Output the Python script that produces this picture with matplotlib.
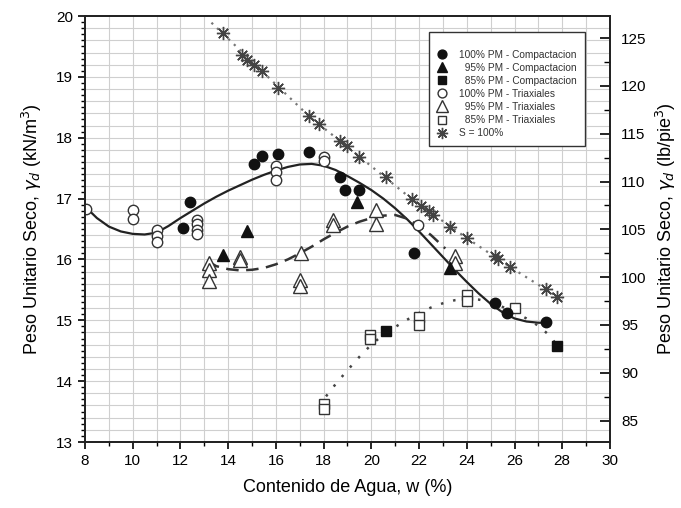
import numpy as np
import matplotlib.pyplot as plt
from matplotlib.ticker import MultipleLocator

plt.rcParams['font.family'] = ['Liberation Sans', 'DejaVu Sans']

# --- data (w in %, gamma_d in kN/m3) ---
comp100_w = [12.1, 12.4, 15.1, 15.4, 16.1, 17.4, 18.7, 18.9, 19.5, 21.8, 25.2, 25.7, 27.3]
comp100_g = [16.51, 16.95, 17.57, 17.70, 17.73, 17.76, 17.36, 17.14, 17.14, 16.10, 15.29, 15.12, 14.97]

comp95_w = [13.8, 14.8, 19.4, 23.3]
comp95_g = [16.08, 16.47, 16.95, 15.86]

comp85_w = [20.6, 27.8]
comp85_g = [14.83, 14.57]

tri100_w = [8.05, 10.0, 10.0, 11.0, 11.0, 11.0, 12.7, 12.7, 12.7, 12.7, 16.0, 16.0, 16.0, 18.0, 18.0, 21.95]
tri100_g = [16.83, 16.81, 16.66, 16.49, 16.39, 16.29, 16.65, 16.58, 16.49, 16.42, 17.53, 17.44, 17.31, 17.69, 17.61, 16.57]

tri95_w = [13.2, 13.2, 13.2, 14.5, 14.5, 17.05, 17.0, 17.0, 18.4, 18.4, 20.2, 20.2, 23.5, 23.5]
tri95_g = [15.94, 15.83, 15.64, 16.04, 15.99, 16.11, 15.67, 15.56, 16.65, 16.57, 16.81, 16.58, 16.05, 15.94]

tri85_w = [18.0, 18.0, 19.95, 19.95, 22.0, 22.0, 24.0, 24.0, 26.0]
tri85_g = [13.63, 13.55, 14.76, 14.70, 15.06, 14.93, 15.42, 15.31, 15.20]

sat_w = [13.8, 14.6, 14.8, 15.1, 15.4, 16.1, 17.4, 17.8, 18.7, 19.0, 19.5, 20.6,
         21.7, 22.1, 22.4, 22.6, 23.3, 24.0, 25.2, 25.3, 25.8, 27.3, 27.8]
sat_g = [19.72, 19.36, 19.28, 19.20, 19.10, 18.82, 18.35, 18.22, 17.94, 17.87, 17.69, 17.36,
         16.99, 16.87, 16.80, 16.73, 16.54, 16.35, 16.05, 16.00, 15.88, 15.51, 15.38]

# trend curves
fit100_w = [8.0, 8.5, 9.0, 9.5, 10.0, 10.5, 11.0, 11.5, 12.0, 12.5, 13.0, 13.5, 14.0, 14.5,
            15.0, 15.5, 16.0, 16.5, 17.0, 17.5, 18.0, 18.5, 19.0, 19.5, 20.0, 20.5, 21.0,
            21.5, 22.0, 22.5, 23.0, 23.5, 24.0, 24.5, 25.0, 25.5, 26.0, 26.5, 27.0, 27.3]
fit100_g = [16.87, 16.68, 16.54, 16.46, 16.42, 16.41, 16.44, 16.55, 16.68, 16.80, 16.92, 17.03,
            17.13, 17.22, 17.31, 17.39, 17.46, 17.52, 17.56, 17.57, 17.54, 17.47, 17.37, 17.26,
            17.14, 17.00, 16.84, 16.66, 16.46, 16.25, 16.04, 15.83, 15.63, 15.44, 15.27, 15.13,
            15.03, 14.98, 14.96, 14.96]

fit95_w = [13.15, 13.5, 14.0, 14.5, 15.0, 15.5, 16.0, 16.5, 17.0, 17.5, 18.0, 18.5, 19.0,
           19.5, 20.0, 20.5, 21.0, 21.5, 22.0, 22.5, 23.1]
fit95_g = [15.97, 15.89, 15.84, 15.82, 15.83, 15.86, 15.92, 16.00, 16.10, 16.21, 16.33, 16.44,
           16.54, 16.62, 16.68, 16.72, 16.73, 16.67, 16.55, 16.40, 16.18]

fit85_w = [18.1, 18.5, 19.0, 19.5, 20.0, 20.5, 21.0, 21.5, 22.0, 22.5, 23.0, 23.5, 24.0,
           24.5, 25.0, 25.5, 26.0, 26.5, 27.0, 27.5, 27.75]
fit85_g = [13.75, 13.95, 14.18, 14.40, 14.60, 14.76, 14.89, 15.01, 15.12, 15.21, 15.28, 15.33,
           15.35, 15.34, 15.30, 15.22, 15.13, 15.03, 14.91, 14.74, 14.60]

satline_w = [13.3, 15.4, 17.4, 19.5, 21.7, 24.0, 25.8, 27.9]
satline_g = [19.89, 19.10, 18.35, 17.69, 16.99, 16.35, 15.88, 15.36]

KN_TO_PCF = 6.366

fig = plt.figure(figsize=(6.81, 5.08), dpi=100)
ax = fig.add_axes([0.1248, 0.1299, 0.7709, 0.8386])

# grid
for gx in np.arange(9, 30, 1):
    ax.axvline(gx, color='#cfcfcf', lw=0.8, zorder=0)
for gy in np.arange(13.2, 20, 0.2):
    ax.axhline(gy, color='#cfcfcf', lw=0.8, zorder=0)

ax.plot(satline_w, satline_g, ls=(0, (1, 2.5)), color='#777777', lw=1.6, zorder=1)
ax.plot(fit100_w, fit100_g, '-', color='#222222', lw=1.6, zorder=2)
ax.plot(fit95_w, fit95_g, ls=(0, (5, 3)), color='#333333', lw=1.8, zorder=2)
ax.plot(fit85_w, fit85_g, ls=(0, (1, 4)), color='#444444', lw=1.8, zorder=2)

ms = 7.5
ax.plot(comp100_w, comp100_g, 'o', color='#111111', ms=ms, ls='none', zorder=4,
        label='100% PM - Compactacion')
ax.plot(comp95_w, comp95_g, '^', color='#111111', ms=ms + 1, ls='none', zorder=4,
        label='  95% PM - Compactacion')
ax.plot(comp85_w, comp85_g, 's', color='#111111', ms=ms - 1, ls='none', zorder=4,
        label='  85% PM - Compactacion')
ax.plot(tri100_w, tri100_g, 'o', mfc='white', mec='#333333', mew=1.0, ms=ms, ls='none', zorder=3,
        label='100% PM - Triaxiales')
ax.plot(tri95_w, tri95_g, '^', mfc='white', mec='#333333', mew=1.0, ms=ms + 2, ls='none', zorder=3,
        label='  95% PM - Triaxiales')
ax.plot(tri85_w, tri85_g, 's', mfc='white', mec='#333333', mew=1.0, ms=ms, ls='none', zorder=3,
        label='  85% PM - Triaxiales')
ax.plot(sat_w, sat_g, marker=(8, 2, 0), color='#444444', mew=1.0, ms=9.5, ls='none', zorder=3,
        label='S = 100%')

ax.set_xlim(8, 30)
ax.set_ylim(13, 20)
ax.xaxis.set_major_locator(MultipleLocator(2))
ax.xaxis.set_minor_locator(MultipleLocator(1))
ax.yaxis.set_major_locator(MultipleLocator(1))
ax.yaxis.set_minor_locator(MultipleLocator(0.1))
ax.tick_params(axis='both', which='major', direction='out', length=5, width=1.2, labelsize=11)
ax.tick_params(axis='both', which='minor', direction='out', length=3, width=1.0)
for sp in ax.spines.values():
    sp.set_linewidth(1.3)
    sp.set_color('#222222')

ax.set_xlabel('Contenido de Agua, w (%)', fontsize=13, labelpad=8)
ax.set_ylabel(r'Peso Unitario Seco, $\gamma_d$ (kN/m$^3$)', fontsize=13, labelpad=9)

ax2 = ax.twinx()
ax2.set_ylim(13 * KN_TO_PCF, 20 * KN_TO_PCF)
ax2.yaxis.set_major_locator(MultipleLocator(5))
ax2.yaxis.set_minor_locator(MultipleLocator(2.5))
ax2.tick_params(axis='y', which='major', direction='in', length=7, width=1.2, labelsize=11, pad=8)
ax2.tick_params(axis='y', which='minor', direction='in', length=4, width=1.0)
ax2.set_ylabel(r'Peso Unitario Seco, $\gamma_d$ (lb/pie$^3$)', fontsize=13, labelpad=5)
for sp in ax2.spines.values():
    sp.set_linewidth(1.3)
    sp.set_color('#222222')

leg = ax.legend(loc='upper left', bbox_to_anchor=(0.645, 0.975), fontsize=7.3,
                frameon=True, fancybox=False, edgecolor='#333333', framealpha=1,
                handlelength=1.0, handletextpad=1.2, labelspacing=0.3,
                borderpad=0.8, title=' ', title_fontsize=5, markerscale=0.85)
leg.get_frame().set_linewidth(1.0)
for t in leg.get_texts():
    t.set_color('#333333')

fig.savefig('out.png', dpi=100)
